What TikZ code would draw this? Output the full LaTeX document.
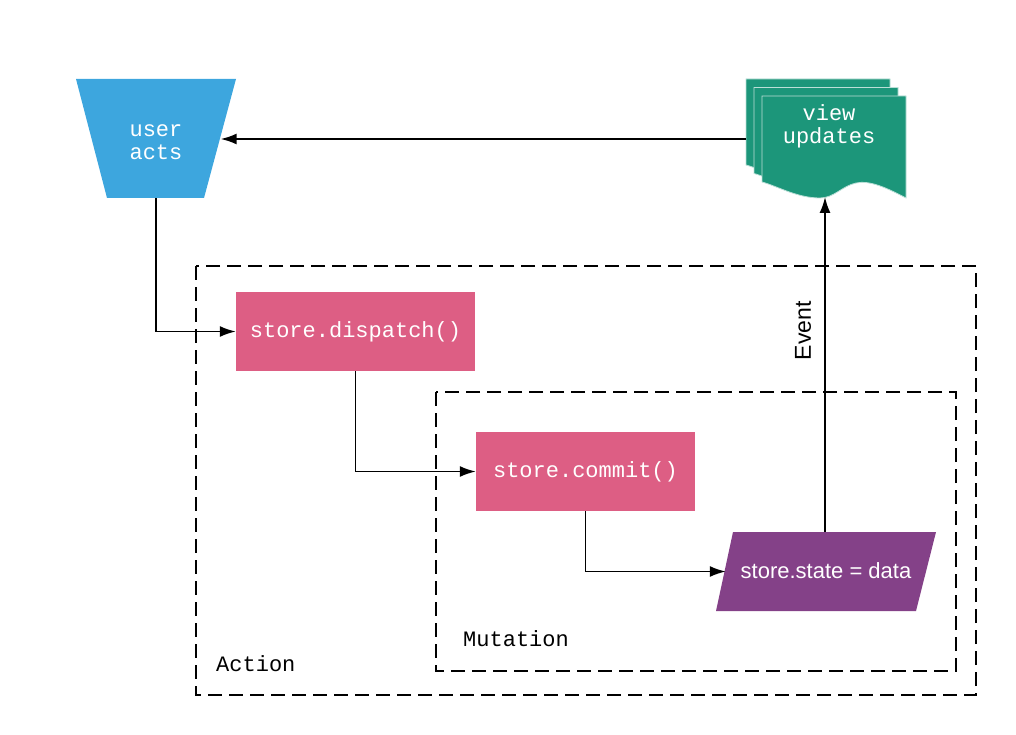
\documentclass[tikz,border=0pt]{standalone}
\usepackage{fontspec}
\setmonofont{Liberation Mono}
\newfontfamily\arialfont{Liberation Sans}
\usepackage{tikz}
\usetikzlibrary{shapes.geometric, arrows.meta}
\definecolor{actblue}{RGB}{61,166,222}
\definecolor{viewgreen}{RGB}{28,150,122}
\definecolor{storepink}{RGB}{221,94,132}
\definecolor{statepurple}{RGB}{132,65,136}
\tikzstyle{arrow} = [line width=1.8pt,-{Latex[length=16pt,width=11pt]}]
\tikzstyle{process} = [rectangle, fill=storepink, text=white, minimum height=79pt, inner sep=0pt, font=\ttfamily\fontsize{22}{23}\selectfont]
\tikzstyle{label} = [inner sep=0pt, text=white, align=center, font=\ttfamily\fontsize{22}{23}\selectfont]
\tikzstyle{frame} = [draw, line width=2pt, dash pattern=on 14pt off 7pt]
\tikzstyle{framelabel} = [anchor=west, inner sep=0pt, font=\ttfamily\fontsize{22}{23}\selectfont]
\newcommand{\docpage}[2]{%
  \filldraw[viewgreen, draw=white!70!viewgreen, line width=0.8pt, shift={(#1,#2)}]
    (0,0) -- (144,0) -- (144,102)
    .. controls (125,92) and (108,84) .. (94,87)
    .. controls (80,90) and (72,102) .. (58,102)
    .. controls (35,102) and (15,90) .. (0,86) -- cycle;}

\begin{document}
\begin{tikzpicture}[x=1pt, y=-1pt]
        \useasboundingbox (0,0) rectangle (1016,735);
        % Frames
        \draw[frame] (196,266) rectangle (976,695);
        \node[framelabel] (actionlbl) at (216,664) {Action};
        \draw[frame] (436,392) rectangle (956,671);
        \node[framelabel] (mutationlbl) at (463,639) {Mutation};
        % View pages
        \docpage{746}{79}
        \docpage{754}{87.5}
        \docpage{762}{96}
        \node[label] (view) at (829,126) {view\\updates};
        \coordinate (viewleft) at (746,139);
        \coordinate (viewbottom) at (825,197);
        % User acts and state shapes
        \fill[actblue] (76,79) -- (236,79) -- (204,198) -- (107,198) -- cycle;
        \fill[statepurple] (733,532) -- (936,532) -- (916,611) -- (716,611) -- cycle;
        % Nodes
        \node[label, minimum width=129pt, minimum height=111pt] (user) at (156,142.5) {user\\acts};
        \node[process, minimum width=239pt] (dispatch) at (355.5,331.5) {store.dispatch()};
        \node[process, minimum width=219pt] (commit) at (585.5,471.5) {store.commit()};
        \node[label, minimum width=200pt, minimum height=79pt, font=\arialfont\fontsize{22}{23}\selectfont] (state) at (826,571.5) {\raisebox{2.5pt}{store.state = data}};
        % Connectors
        \draw[arrow] (viewleft) -- (user.east |- viewleft);
        \draw[arrow] (user.south) |- (dispatch.west);
        \draw[arrow] (dispatch.south) |- (commit.west);
        \draw[arrow] (commit.south) |- (state.west);
        \draw[arrow] (state.north -| viewbottom) -- node[pos=0.6, rotate=90, anchor=south, inner sep=13pt, font=\arialfont\fontsize{23}{25}\selectfont] (event) {Event} (viewbottom);
\end{tikzpicture}
\end{document}
